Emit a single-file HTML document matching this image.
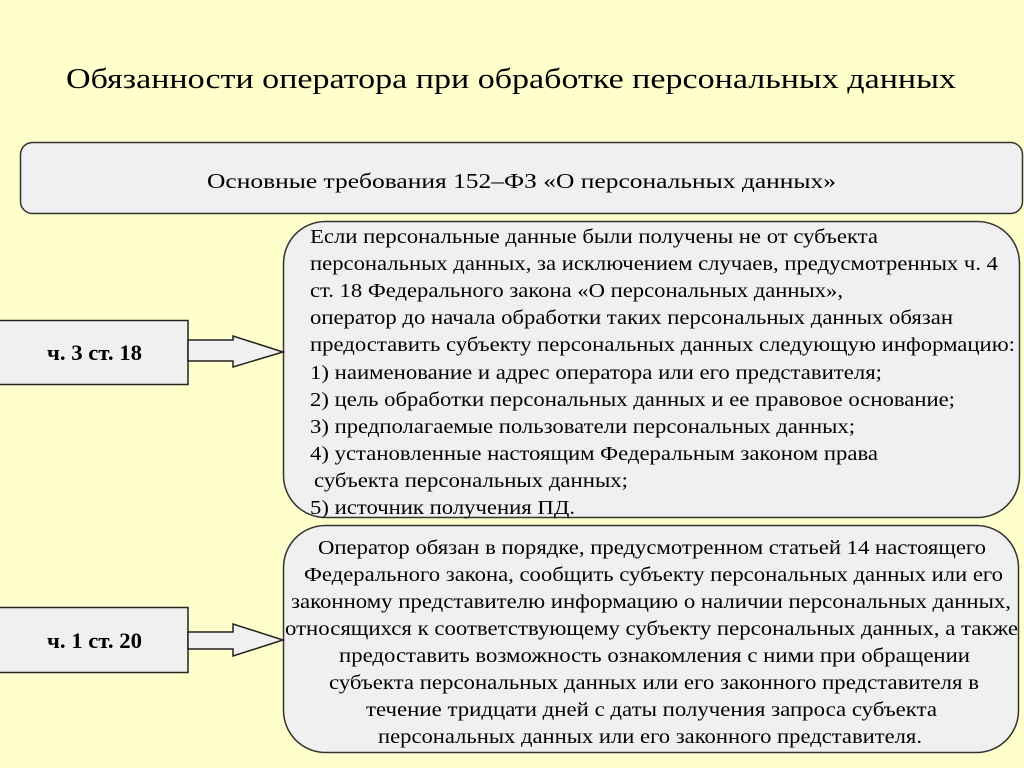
<!DOCTYPE html>
<html><head><meta charset="utf-8"><style>
html,body{margin:0;padding:0;background:#ffffcc;}
svg{display:block;}
text{font-family:"Liberation Serif","DejaVu Serif",serif;fill:#000;}
</style></head><body>
<svg width="1024" height="768" viewBox="0 0 1024 768" xmlns="http://www.w3.org/2000/svg">
<rect x="0" y="0" width="1024" height="768" fill="#ffffcc"/>
<text x="66" y="88" font-size="28" textLength="890" lengthAdjust="spacingAndGlyphs">Обязанности оператора при обработке персональных данных</text>

<rect x="20.5" y="142.5" width="1002" height="71" rx="12" fill="#f0f0f0" stroke="#333" stroke-width="1.5"/>
<text x="207" y="188" font-size="21" textLength="629" lengthAdjust="spacingAndGlyphs">Основные требования 152–ФЗ «О персональных данных»</text>

<rect x="283.5" y="221.5" width="736" height="296" rx="42" fill="#f0f0f0" stroke="#333" stroke-width="1.5"/>
<g font-size="20">
<text x="310" y="243" textLength="568" lengthAdjust="spacingAndGlyphs">Если персональные данные были получены не от субъекта</text>
<text x="310" y="270" textLength="688" lengthAdjust="spacingAndGlyphs">персональных данных, за исключением случаев, предусмотренных ч. 4</text>
<text x="310" y="297" textLength="533" lengthAdjust="spacingAndGlyphs">ст. 18 Федерального закона «О персональных данных»,</text>
<text x="310" y="324" textLength="643" lengthAdjust="spacingAndGlyphs">оператор до начала обработки таких персональных данных обязан</text>
<text x="310" y="351" textLength="705" lengthAdjust="spacingAndGlyphs">предоставить субъекту персональных данных следующую информацию:</text>
<text x="310" y="379" textLength="572" lengthAdjust="spacingAndGlyphs">1) наименование и адрес оператора или его представителя;</text>
<text x="310" y="406" textLength="645" lengthAdjust="spacingAndGlyphs">2) цель обработки персональных данных и ее правовое основание;</text>
<text x="310" y="433" textLength="545" lengthAdjust="spacingAndGlyphs">3) предполагаемые пользователи персональных данных;</text>
<text x="310" y="460" textLength="568" lengthAdjust="spacingAndGlyphs">4) установленные настоящим Федеральным законом права</text>
<text x="314" y="487" textLength="314" lengthAdjust="spacingAndGlyphs">субъекта персональных данных;</text>
<text x="310" y="514" textLength="265" lengthAdjust="spacingAndGlyphs">5) источник получения ПД.</text>
</g>

<rect x="283.5" y="525.5" width="735" height="227" rx="42" fill="#f0f0f0" stroke="#333" stroke-width="1.5"/>
<g font-size="20">
<text x="318" y="554" textLength="668" lengthAdjust="spacingAndGlyphs">Оператор обязан в порядке, предусмотренном статьей 14 настоящего</text>
<text x="304" y="581" textLength="699" lengthAdjust="spacingAndGlyphs">Федерального закона, сообщить субъекту персональных данных или его</text>
<text x="291" y="608" textLength="720" lengthAdjust="spacingAndGlyphs">законному представителю информацию о наличии персональных данных,</text>
<text x="285" y="635" textLength="733" lengthAdjust="spacingAndGlyphs">относящихся к соответствующему субъекту персональных данных, а также</text>
<text x="339" y="662" textLength="631" lengthAdjust="spacingAndGlyphs">предоставить возможность ознакомления с ними при обращении</text>
<text x="329" y="689" textLength="650" lengthAdjust="spacingAndGlyphs">субъекта персональных данных или его законного представителя в</text>
<text x="366" y="716" textLength="571" lengthAdjust="spacingAndGlyphs">течение тридцати дней с даты получения запроса субъекта</text>
<text x="378" y="743" textLength="544" lengthAdjust="spacingAndGlyphs">персональных данных или его законного представителя.</text>
</g>

<rect x="-2" y="320.5" width="190" height="64" fill="#f0f0f0" stroke="#222" stroke-width="1.5"/>
<text x="47" y="360" font-size="22" font-weight="bold" textLength="95" lengthAdjust="spacingAndGlyphs">ч. 3 ст. 18</text>
<polygon points="188,340 233,340 233,336 283,352 233,367 233,361 188,361" fill="#f0f0f0" stroke="#222" stroke-width="1.5"/>

<rect x="-2" y="607.5" width="190" height="65" fill="#f0f0f0" stroke="#222" stroke-width="1.5"/>
<text x="47" y="648" font-size="22" font-weight="bold" textLength="95" lengthAdjust="spacingAndGlyphs">ч. 1 ст. 20</text>
<polygon points="188,632 233,632 233,624 283,640 233,656 233,649 188,649" fill="#f0f0f0" stroke="#222" stroke-width="1.5"/>
</svg>
</body></html>
